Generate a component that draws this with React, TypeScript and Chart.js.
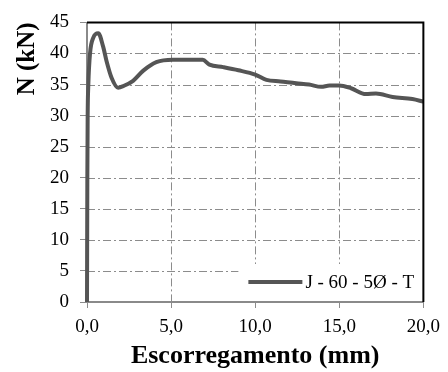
import React, { useEffect, useRef } from "react";
import { Chart, registerables } from "chart.js";

Chart.register(...registerables);

const slipMm = [0, 0.02, 0.04, 0.08, 0.18, 0.37, 0.67, 0.96, 1.16, 1.46, 1.85, 2.2, 2.74, 3.33, 4.12, 5.1, 6.88, 7.28, 8.1, 9.0, 10.0, 10.67, 11.5, 12.44, 13.2, 13.92, 14.42, 15.0, 15.7, 16.58, 17.18, 18.17, 19.35, 20.0];
const loadKN = [0, 20, 30, 35, 40, 42.5, 43.25, 41.1, 38.8, 36.1, 34.5, 34.8, 35.6, 37.2, 38.6, 39.0, 39.0, 38.2, 37.8, 37.3, 36.6, 35.74, 35.5, 35.2, 35.0, 34.63, 34.84, 34.84, 34.4, 33.46, 33.57, 33.0, 32.67, 32.25];
const seriesLabel = "J - 60 - 5Ø - T";
const xTitle = "Escorregamento (mm)";
const yTitle = "N (kN)";

const FONT = "'Liberation Serif', 'Times New Roman', serif";
const LINE_COLOR = "#555555";
const GRID_COLOR = "#8c8c8c";
const DASH = [8, 3, 2, 3];

const gridPlugin = {
  id: "dashGrid",
  beforeDatasetsDraw(chart: any) {
    const { ctx, chartArea, scales } = chart;
    const { left, right, top, bottom } = chartArea;
    ctx.save();
    ctx.strokeStyle = GRID_COLOR;
    ctx.lineWidth = 1;
    ctx.setLineDash(DASH);
    scales.x.ticks.forEach((t: any) => {
      if (t.value <= scales.x.min || t.value >= scales.x.max) return;
      const px = Math.round(scales.x.getPixelForValue(t.value)) + 0.5;
      ctx.beginPath();
      ctx.moveTo(px, top);
      ctx.lineTo(px, bottom);
      ctx.stroke();
    });
    scales.y.ticks.forEach((t: any) => {
      if (t.value <= scales.y.min || t.value >= scales.y.max) return;
      const py = Math.round(scales.y.getPixelForValue(t.value)) + 0.5;
      ctx.beginPath();
      ctx.moveTo(left, py);
      ctx.lineTo(right, py);
      ctx.stroke();
    });
    // legend background box
    ctx.fillStyle = "#fff";
    ctx.fillRect(right - 185, bottom - 38, 184, 37);
    ctx.setLineDash([]);
    ctx.strokeStyle = "#8a8a8a";
    ctx.lineWidth = 2;
    ctx.beginPath();
    ctx.moveTo(left, top);
    ctx.lineTo(left, bottom);
    ctx.lineTo(right, bottom);
    ctx.stroke();
    ctx.restore();
  },
  afterDraw(chart: any) {
    const { ctx, chartArea } = chart;
    const { left, right, top, bottom } = chartArea;
    ctx.save();
    ctx.setLineDash([]);
    ctx.strokeStyle = "#000";
    ctx.lineWidth = 2;
    ctx.beginPath();
    ctx.moveTo(left, top);
    ctx.lineTo(right, top);
    ctx.lineTo(right, bottom);
    ctx.stroke();
    // legend
    const lx1 = right - 175;
    const lx2 = right - 121;
    const ly = bottom - 20;
    ctx.strokeStyle = LINE_COLOR;
    ctx.lineWidth = 4;
    ctx.beginPath();
    ctx.moveTo(lx1, ly);
    ctx.lineTo(lx2, ly);
    ctx.stroke();
    ctx.fillStyle = "#000";
    ctx.font = `19px ${FONT}`;
    ctx.textBaseline = "middle";
    ctx.textAlign = "left";
    ctx.fillText(chart.data.datasets[0].label, lx2 + 3, ly + 1);
    ctx.restore();
  },
};

export default function App() {
  const ref = useRef<HTMLCanvasElement | null>(null);
  useEffect(() => {
    document.body.style.margin = "0";
    const canvas = ref.current!;
    const data = slipMm.map((x, i) => ({ x, y: loadKN[i] }));
    const chart = new Chart(canvas, {
      type: "scatter",
      data: {
        datasets: [
          {
            label: seriesLabel,
            data,
            showLine: true,
            borderColor: LINE_COLOR,
            borderWidth: 4,
            pointRadius: 0,
            cubicInterpolationMode: "monotone",
            fill: false,
            clip: false,
          } as any,
        ],
      },
      options: {
        animation: false,
        responsive: false,
        maintainAspectRatio: false,
        layout: { padding: { top: 19, right: 23, left: 0, bottom: 0 } },
        plugins: { legend: { display: false }, tooltip: { enabled: false } },
        scales: {
          x: {
            type: "linear",
            min: 0,
            max: 20,
            afterFit(scale: any) {
              scale.height = 70;
            },
            ticks: {
              stepSize: 5,
              color: "#000",
              font: { family: FONT, size: 19 },
              padding: 8,
              callback: (v: any) => Number(v).toFixed(1).replace(".", ","),
            },
            grid: {
              drawOnChartArea: false,
              color: GRID_COLOR,
              tickColor: GRID_COLOR,
              tickLength: 6,
              lineWidth: 1,
            },
            border: { display: false },
            title: {
              display: true,
              text: xTitle,
              color: "#000",
              font: { family: FONT, size: 26, weight: "bold" },
              padding: { top: 0, bottom: 0 },
            },
          },
          y: {
            type: "linear",
            min: 0,
            max: 45,
            afterFit(scale: any) {
              scale.width = 87;
            },
            ticks: {
              stepSize: 5,
              color: "#000",
              font: { family: FONT, size: 19 },
              padding: 11,
            },
            grid: {
              drawOnChartArea: false,
              color: GRID_COLOR,
              tickColor: GRID_COLOR,
              tickLength: 7,
              lineWidth: 1,
            },
            border: { display: false },
            title: {
              display: true,
              text: yTitle,
              align: "end",
              color: "#000",
              font: { family: FONT, size: 25, weight: "bold" },
              padding: { top: 13, bottom: 0 },
            },
          },
        },
      },
      plugins: [gridPlugin],
    } as any);
    return () => chart.destroy();
  }, []);
  return (
    <div style={{ width: 448, height: 372 }}>
      <canvas ref={ref} width={448} height={372} style={{ width: 448, height: 372, display: "block" }} />
    </div>
  );
}
